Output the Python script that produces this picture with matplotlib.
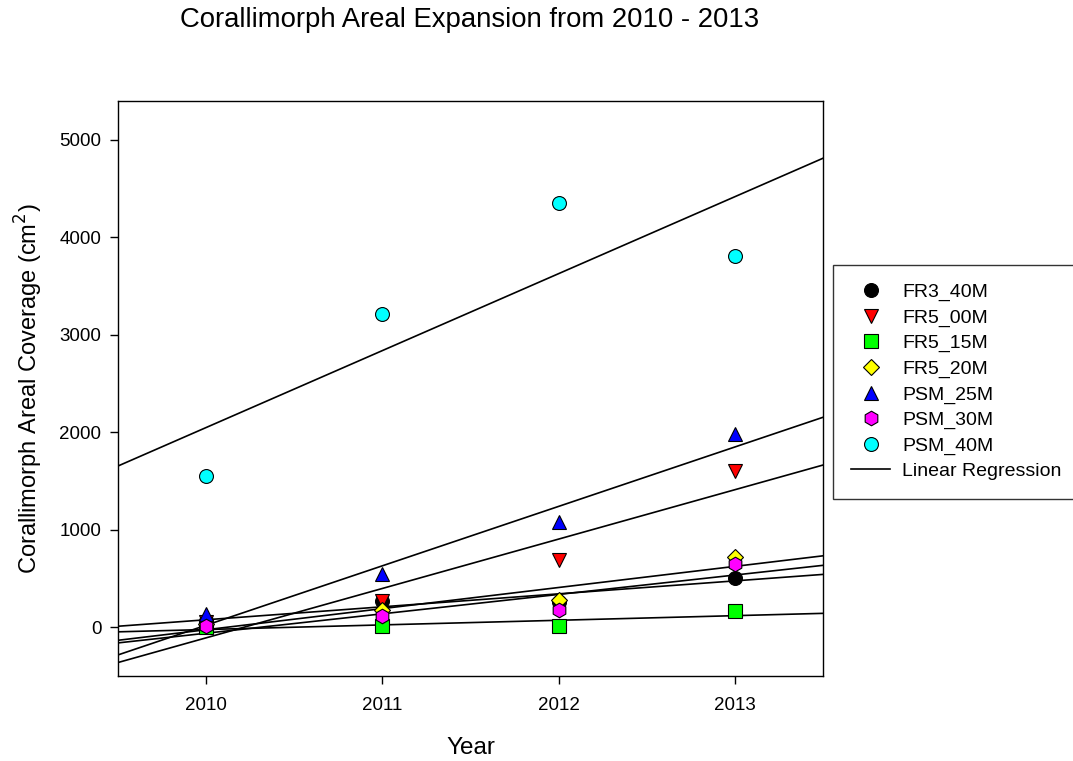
import numpy as np
import matplotlib
matplotlib.use("Agg")
import matplotlib.pyplot as plt
from matplotlib.lines import Line2D

plt.rcParams["font.family"] = ["Liberation Sans", "DejaVu Sans"]

years = [2010, 2011, 2012, 2013]

sites = ["FR3_40M", "FR5_00M", "FR5_15M", "FR5_20M", "PSM_25M", "PSM_30M", "PSM_40M"]

fr3_40m = [64, 270, 262, 510]
fr5_00m = [50, 270, 686, 1600]
fr5_15m = [5, 13, 10, 164]
fr5_20m = [30, 174, 277, 718]
psm_25m = [133, 545, 1076, 1988]
psm_30m = [10, 113, 174, 653]
psm_40m = [1557, 3217, 4350, 3811]

series = [fr3_40m, fr5_00m, fr5_15m, fr5_20m, psm_25m, psm_30m, psm_40m]

markers = ["o", "v", "s", "D", "^", "h", "o"]
colors = ["#000000", "#ff0000", "#00ff00", "#ffff00", "#0000ff", "#ff00ff", "#00ffff"]
sizes = [10, 10, 9.5, 8.5, 10, 10.5, 10]

fig = plt.figure(figsize=(10.73, 7.61), dpi=100)
ax = fig.add_axes([118 / 1073, 85 / 761, 705 / 1073, 575 / 761])

x_lo, x_hi = 2009.5, 2013.5
xs = np.array([x_lo, x_hi])

# least-squares fit line per site, spanning the full x range
for vals in series:
    slope, intercept = np.polyfit(years, vals, 1)
    ax.plot(xs, slope * xs + intercept, color="black", lw=1.2, zorder=2)

for name, vals, m, c, s in zip(sites, series, markers, colors, sizes):
    ax.plot(years, vals, linestyle="none", marker=m, markersize=s,
            markerfacecolor=c, markeredgecolor="black", markeredgewidth=0.8,
            zorder=3, label=name)

ax.set_xlim(x_lo, x_hi)
ax.set_ylim(-500, 5400)
ax.set_xticks(years)
ax.set_xticklabels([str(y) for y in years])
ax.set_yticks([0, 1000, 2000, 3000, 4000, 5000])
ax.tick_params(axis="both", direction="out", length=6, width=1, labelsize=13.5,
               top=False, right=False)
ax.tick_params(axis="x", pad=9)
ax.tick_params(axis="y", pad=6)
for sp in ax.spines.values():
    sp.set_linewidth(1.0)

ax.set_xlabel("Year", fontsize=17.5, labelpad=17)
ax.set_ylabel("Corallimorph Areal Coverage (cm$^2$)", fontsize=17, labelpad=10)
fig.text(470 / 1073, 1 - 20 / 761, "Corallimorph Areal Expansion from 2010 - 2013",
         ha="center", va="center", fontsize=19.8)

handles, labels = ax.get_legend_handles_labels()
handles.append(Line2D([0], [0], color="black", lw=1.2))
labels.append("Linear Regression")
leg = fig.legend(handles, labels, loc="upper left",
                 bbox_to_anchor=(833 / 1073, 1 - 265 / 761),
                 fontsize=14, frameon=True, fancybox=False, edgecolor="black",
                 handlelength=2.0, handletextpad=0.62, labelspacing=0.4,
                 borderpad=0.95, borderaxespad=0)
leg.get_frame().set_linewidth(1.0)

fig.savefig("out.png", dpi=100)
